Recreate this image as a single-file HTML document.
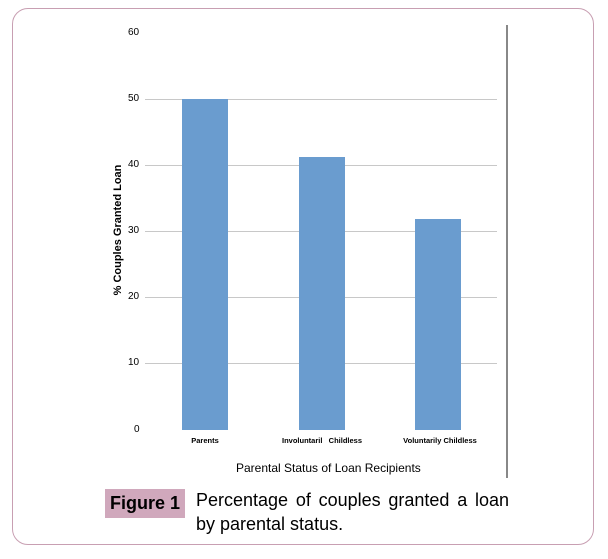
<!DOCTYPE html>
<html><head><style>
body{margin:0;width:608px;height:559px;background:#fff;position:relative;font-family:"Liberation Sans",sans-serif;overflow:hidden}
.frame{position:absolute;left:12px;top:8px;width:582px;height:537px;border:1px solid #c89fb2;border-radius:16px;box-sizing:border-box}
.t{position:absolute;font-size:10px;color:#000}
.g{position:absolute;left:145px;width:352px;height:1px;background:#c8c8c8}
.b{position:absolute;width:46px;background:#6a9ccf}
.xl{position:absolute;top:436px;font-size:7.5px;font-weight:bold;text-align:center;width:120px}
</style></head><body>
<div class="frame"></div>
<div class="t" style="left:128px;top:27px">60</div>
<div class="t" style="left:128px;top:93px">50</div>
<div class="t" style="left:128px;top:159px">40</div>
<div class="t" style="left:128px;top:225px">30</div>
<div class="t" style="left:128px;top:291px">20</div>
<div class="t" style="left:128px;top:357px">10</div>
<div class="t" style="left:134px;top:424px">0</div>
<div class="g" style="top:99px"></div>
<div class="g" style="top:165px"></div>
<div class="g" style="top:231px"></div>
<div class="g" style="top:297px"></div>
<div class="g" style="top:363px"></div>
<div style="position:absolute;left:506px;top:25px;width:2px;height:453px;background:#888"></div>
<div class="b" style="left:182px;top:99px;height:331px"></div>
<div class="b" style="left:299px;top:157px;height:273px"></div>
<div class="b" style="left:415px;top:219px;height:211px"></div>
<div class="xl" style="left:145px">Parents</div>
<div class="xl" style="left:262px">Involuntaril&nbsp;&nbsp; Childless</div>
<div class="xl" style="left:380px">Voluntarily Childless</div>
<div style="position:absolute;left:236px;top:461px;font-size:12px">Parental Status of Loan Recipients</div>
<div style="position:absolute;left:118px;top:230px;transform:translate(-50%,-50%) rotate(-90deg);font-size:11px;font-weight:bold;white-space:nowrap">% Couples Granted Loan</div>
<div style="position:absolute;left:105px;top:489px;width:80px;height:29px;background:#d0a8bc;font-size:18px;font-weight:bold;line-height:29px;text-align:center">Figure 1</div>
<div style="position:absolute;left:196px;top:488px;width:313px;font-size:18px;line-height:24px;text-align:justify;text-align-last:left">Percentage of couples granted a loan by parental status.</div>
</body></html>
